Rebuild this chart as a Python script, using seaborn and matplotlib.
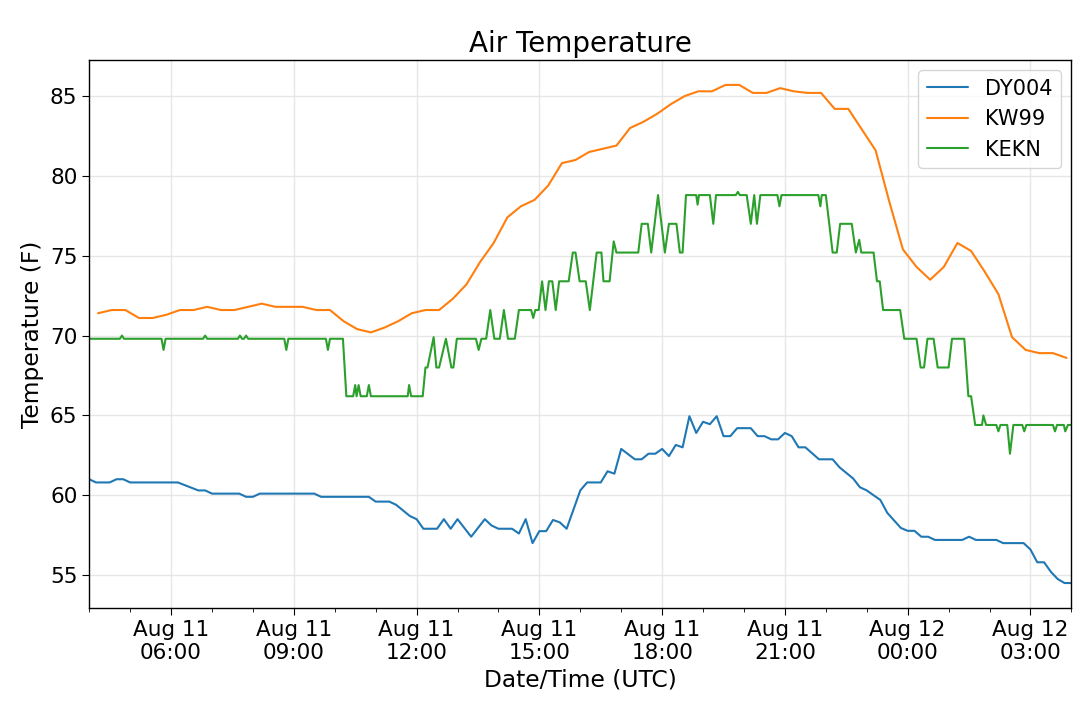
import matplotlib
matplotlib.use("Agg")
import matplotlib.pyplot as plt
import matplotlib.dates as mdates
import pandas as pd
import seaborn as sns

# start of the plotted window (UTC)
start = pd.Timestamp("2019-08-11 04:00")

# DY004: minutes after start, temperature (F)
dy004_min = [0, 10, 30, 40, 50, 60, 130, 160, 170, 180, 220, 230, 240, 250,
             330, 340, 410, 420, 440, 450, 470, 480, 490, 510, 520, 530, 540,
             560, 580, 590, 600, 620, 630, 640, 650, 660, 670, 680, 690, 700,
             710, 720, 730, 750, 760, 770, 780, 800, 810, 820, 830, 840, 850,
             860, 870, 880, 890, 900, 910, 920, 930, 940, 950, 970, 980, 990,
             1000, 1010, 1020, 1030, 1040, 1050, 1070, 1090, 1100, 1120, 1130,
             1140, 1160, 1170, 1190, 1200, 1210, 1220, 1230, 1240, 1280, 1290,
             1300, 1330, 1340, 1370, 1380, 1390, 1400, 1410, 1420, 1430, 1440]
dy004_temp = [61.0, 60.8, 60.8, 61.0, 61.0, 60.8, 60.8, 60.3, 60.3, 60.1, 60.1,
              59.9, 59.9, 60.1, 60.1, 59.9, 59.9, 59.6, 59.6, 59.4, 58.7, 58.5,
              57.9, 57.9, 58.5, 57.9, 58.5, 57.4, 58.5, 58.1, 57.9, 57.9, 57.6,
              58.5, 57.0, 57.75, 57.75, 58.45, 58.3, 57.9, 59.1, 60.3, 60.8,
              60.8, 61.5, 61.35, 62.9, 62.25, 62.25, 62.6, 62.6, 62.9, 62.45,
              63.15, 63.0, 64.95, 63.9, 64.6, 64.45, 64.95, 63.7, 63.7, 64.2,
              64.2, 63.7, 63.7, 63.5, 63.5, 63.9, 63.7, 63.0, 63.0, 62.25, 62.25,
              61.75, 61.05, 60.5, 60.3, 59.7, 58.9, 57.95, 57.77, 57.77, 57.4,
              57.4, 57.2, 57.2, 57.4, 57.2, 57.2, 57.0, 57.0, 56.6, 55.8, 55.8,
              55.2, 54.75, 54.5, 54.5]

# KW99: reports every 20 minutes from 04:13
kw99_min = [13 + 20 * k for k in range(72)]
kw99_temp = [71.4, 71.6, 71.6, 71.1, 71.1, 71.3, 71.6, 71.6, 71.8, 71.6, 71.6,
             71.8, 72.0, 71.8, 71.8, 71.8, 71.6, 71.6, 70.9, 70.4, 70.2, 70.5,
             70.9, 71.4, 71.6, 71.6, 72.3, 73.2, 74.6, 75.8, 77.4, 78.1, 78.5,
             79.4, 80.8, 81.0, 81.5, 81.7, 81.9, 83.0, 83.4, 83.9, 84.5, 85.0,
             85.3, 85.3, 85.7, 85.7, 85.2, 85.2, 85.5, 85.3, 85.2, 85.2, 84.2,
             84.2, 82.9, 81.6, 78.4, 75.4, 74.3, 73.5, 74.3, 75.8, 75.3, 74.0,
             72.6, 69.9, 69.1, 68.9, 68.9, 68.6]

# KEKN: minutes after start, temperature (F)
kekn_min = [0, 45, 48, 51, 106, 109, 112, 167, 170, 173, 218, 221, 224, 227,
            230, 233, 286, 289, 292, 347, 350, 353, 372, 377, 387, 390, 392,
            395, 398, 407, 410, 413, 467, 469, 472, 489, 493, 496, 505, 509,
            513, 523, 531, 534, 539, 567, 571, 575, 582, 588, 594, 602, 608,
            614, 624, 630, 648, 651, 654, 659, 664, 669, 674, 679, 684, 689,
            703, 709, 713, 719, 728, 734, 744, 751, 754, 763, 769, 773, 805,
            810, 819, 824, 834, 844, 850, 861, 866, 870, 875, 890, 892, 894,
            910, 915, 919, 948, 951, 954, 964, 970, 975, 979, 984, 1009, 1012,
            1015, 1069, 1072, 1074, 1080, 1090, 1096, 1101, 1118, 1124, 1129,
            1132, 1150, 1155, 1159, 1164, 1189, 1195, 1213, 1219, 1224, 1229,
            1238, 1244, 1260, 1265, 1283, 1289, 1293, 1299, 1309, 1311, 1315,
            1330, 1333, 1336, 1346, 1350, 1355, 1368, 1371, 1374, 1413, 1416,
            1419, 1429, 1431, 1435, 1440]
kekn_temp = [69.8, 69.8, 70.0, 69.8, 69.8, 69.1, 69.8, 69.8, 70.0, 69.8, 69.8,
             70.0, 69.8, 69.8, 70.0, 69.8, 69.8, 69.1, 69.8, 69.8, 69.1, 69.8,
             69.8, 66.2, 66.2, 66.9, 66.2, 66.9, 66.2, 66.2, 66.9, 66.2, 66.2,
             66.9, 66.2, 66.2, 68.0, 68.0, 69.9, 68.0, 68.0, 69.8, 68.0, 68.0,
             69.8, 69.8, 69.1, 69.8, 69.8, 71.6, 69.8, 69.8, 71.6, 69.8, 69.8,
             71.6, 71.6, 71.1, 71.6, 71.6, 73.4, 71.6, 73.4, 73.4, 71.6, 73.4,
             73.4, 75.2, 75.2, 73.4, 73.4, 71.6, 75.2, 75.2, 73.4, 73.4, 75.9,
             75.2, 75.2, 77.0, 77.0, 75.2, 78.8, 75.2, 77.0, 77.0, 75.2, 75.2,
             78.8, 78.8, 78.2, 78.8, 78.8, 77.0, 78.8, 78.8, 79.0, 78.8, 78.8,
             77.0, 78.8, 77.0, 78.8, 78.8, 78.1, 78.8, 78.8, 78.1, 78.8, 78.8,
             75.2, 75.2, 77.0, 77.0, 75.2, 76.0, 75.2, 75.2, 73.4, 73.4, 71.6,
             71.6, 69.8, 69.8, 68.0, 68.0, 69.8, 69.8, 68.0, 68.0, 69.8, 69.8,
             66.2, 66.2, 64.4, 64.4, 65.0, 64.4, 64.4, 64.0, 64.4, 64.4, 62.6,
             64.4, 64.4, 64.0, 64.4, 64.4, 64.0, 64.4, 64.4, 64.0, 64.4, 64.4]

stations = ["DY004", "KW99", "KEKN"]


def to_frame(name, minutes, temps):
    return pd.DataFrame({
        "time": start + pd.to_timedelta(minutes, unit="min"),
        "temp": temps,
        "station": name,
    })


df = pd.concat([
    to_frame("DY004", dy004_min, dy004_temp),
    to_frame("KW99", kw99_min, kw99_temp),
    to_frame("KEKN", kekn_min, kekn_temp),
], ignore_index=True)

sns.set_style("ticks")
plt.rcParams["font.family"] = ["DejaVu Sans"]
for key in ["text.color", "axes.labelcolor", "xtick.color", "ytick.color"]:
    plt.rcParams[key] = "black"

fig, ax = plt.subplots(figsize=(10.8, 7.02), dpi=100)
fig.subplots_adjust(left=0.0826, right=0.992, top=0.9145, bottom=0.134)

sns.lineplot(data=df, x="time", y="temp", hue="station", hue_order=stations,
             palette=sns.color_palette("tab10", 3), linewidth=1.5,
             estimator=None, sort=True, ax=ax)

ax.set_xlim(start, start + pd.Timedelta(hours=24))
ax.xaxis.set_major_locator(mdates.HourLocator(byhour=range(0, 24, 3)))
ax.xaxis.set_minor_locator(mdates.HourLocator())
ax.xaxis.set_major_formatter(mdates.DateFormatter("%b %d\n%H:%M"))

ax.grid(True, which="major", color="#e6e6e6", linewidth=1)
for sp in ax.spines.values():
    sp.set_color("black")
    sp.set_linewidth(1.0)
ax.tick_params(axis="both", which="major", labelsize=15.5, length=5,
               color="black", direction="out")
ax.tick_params(axis="x", which="minor", length=3, color="black")

ax.set_title("Air Temperature", fontsize=20)
ax.set_xlabel("Date/Time (UTC)", fontsize=16.8)
ax.set_ylabel("Temperature (F)", fontsize=16.8)

ax.legend(loc="upper right", fontsize=15, frameon=True)

fig.savefig("out.png", dpi=100)
